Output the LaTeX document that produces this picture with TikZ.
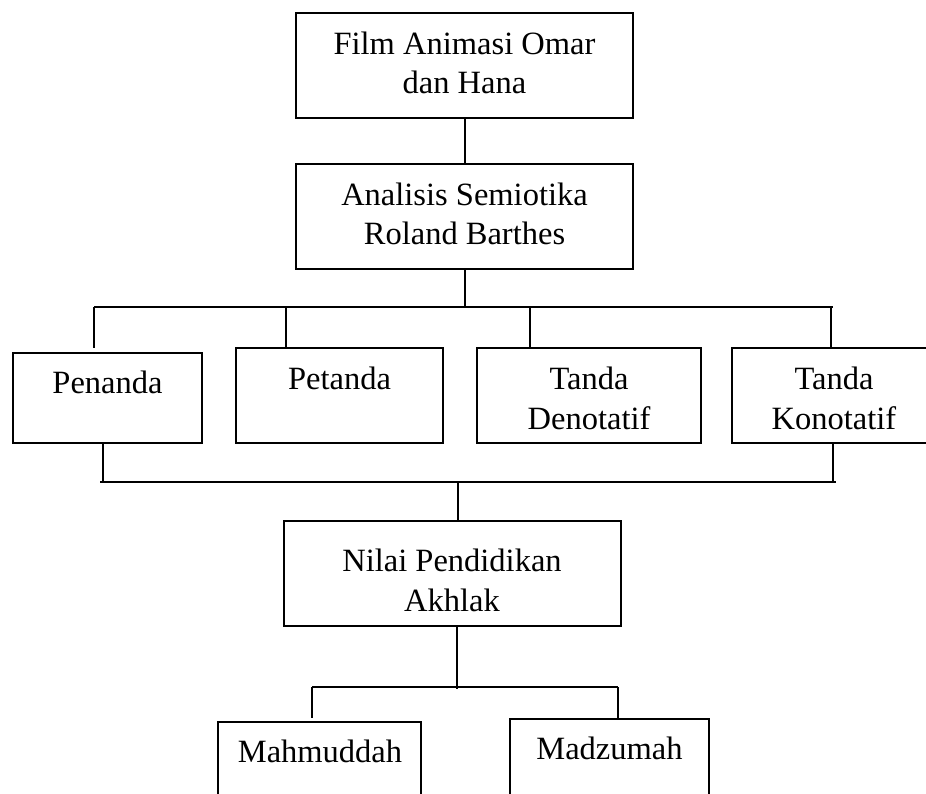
\documentclass[tikz,border=0pt]{standalone}
\usepackage{fontspec}
\setmainfont{Liberation Serif}
\begin{document}
\begin{tikzpicture}[x=1pt,y=-1pt,
  boxst/.style={draw=black,line width=2pt,inner sep=0pt},
  txt/.style={inner sep=0pt,anchor=base,align=center,font=\fontsize{32.5}{39.5}\selectfont},
  conn/.style={draw=black,line width=2pt}]
\useasboundingbox (0,0) rectangle (926,794);
% boxes
\node[boxst,minimum width=337pt,minimum height=105pt] (b1) at (464.5,65.5) {};
\node[boxst,minimum width=337pt,minimum height=105pt] (b2) at (464.5,216.5) {};
\node[boxst,minimum width=189pt,minimum height=90pt] (pen) at (107.5,398) {};
\node[boxst,minimum width=207pt,minimum height=95pt] (pet) at (339.5,395.5) {};
\node[boxst,minimum width=224pt,minimum height=95pt] (den) at (589,395.5) {};
\node[boxst,minimum width=203pt,minimum height=95pt] (kon) at (833.5,395.5) {};
\node[boxst,minimum width=337pt,minimum height=105pt] (nil) at (452.5,573.5) {};
\node[boxst,minimum width=203pt,minimum height=108pt] (mah) at (319.5,776) {};
\node[boxst,minimum width=199pt,minimum height=111pt] (mad) at (609.5,774.5) {};
% texts (base anchor = baseline of last line)
\node[txt] (t1) at (464.5,94) {Film Animasi Omar\\dan Hana};
\node[txt] (t2) at (464.5,245) {Analisis Semiotika\\Roland Barthes};
\node[txt] (t3) at (107.5,393) {Penanda};
\node[txt] (t4) at (339.5,389) {Petanda};
\node[txt] (t5) at (589,429) {Tanda\\Denotatif};
\node[txt] (t6) at (834,429) {Tanda\\Konotatif};
\node[txt] (t7) at (452,611) {Nilai Pendidikan\\Akhlak};
\node[txt] (t8) at (320,762) {Mahmuddah};
\node[txt] (t9) at (609.5,759) {Madzumah};
% connectors
\coordinate (busL) at (94,307);
\coordinate (busR) at (833,307);
\coordinate (lowL) at (100,482);
\coordinate (lowR) at (836,482);
\coordinate (botL) at (312,687);
\coordinate (botR) at (618,687);
\draw[conn] (b1.south) -- (b2.north);
\draw[conn] (b2.south) -- (b2.south |- busL);
\draw[conn] (busL) -- (busR);
\draw[conn] (busL) -- ++(0,41);
\draw[conn] (286,307) -- (286,348);
\draw[conn] (530,307) -- (530,348);
\draw[conn] (831,307) -- (831,348);
\draw[conn] (103,443) -- (103,482);
\draw[conn] (833,443) -- (833,482);
\draw[conn] (lowL) -- (lowR);
\draw[conn] (458,482) -- (nil.north -| 458,0);
\draw[conn] (nil.south -| 457,0) -- (457,689);
\draw[conn] (botL) -- (botR);
\draw[conn] (botL) -- ++(0,31);
\draw[conn] (botR) -- (mad.north -| 618,0);
\end{tikzpicture}
\end{document}
